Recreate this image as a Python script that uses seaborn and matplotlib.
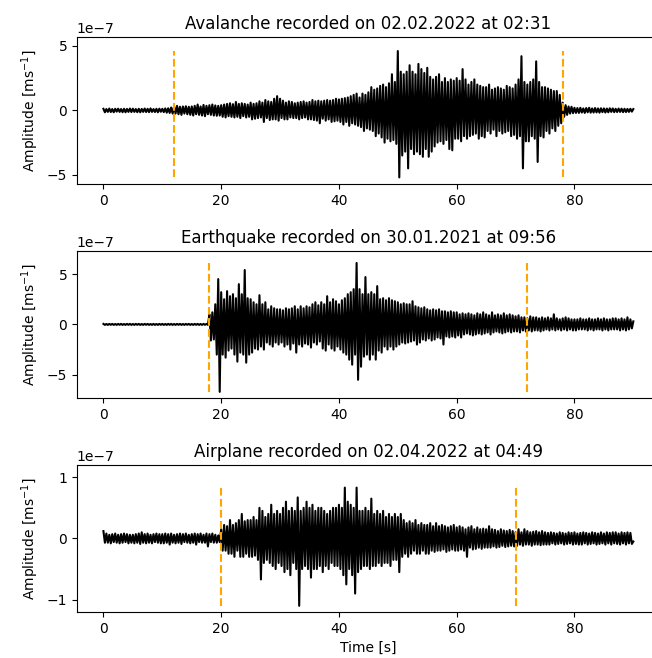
import numpy as np
import matplotlib
matplotlib.use("Agg")
import matplotlib.pyplot as plt
import seaborn as sns

# sample times [s], one reading every 0.25 s
time = np.arange(0, 90.25, 0.25)

# amplitudes, in units of 1e-7 m/s (one row = 5 s)
avalanche = [
    0.12, -0.15, 0.10, -0.12, 0.14, -0.13, 0.10, -0.15, 0.12, -0.10, 0.13, -0.12, 0.10, -0.14, 0.12, -0.15, 0.11, -0.12, 0.14, -0.13,
    0.13, -0.12, 0.10, -0.14, 0.12, -0.15, 0.11, -0.12, 0.14, -0.13, 0.12, -0.14, 0.15, -0.12, 0.10, -0.13, 0.12, -0.15, 0.13, -0.11,
    0.12, -0.14, 0.15, -0.18, 0.16, -0.20, 0.22, -0.25, 0.30, -0.25, 0.35, -0.30, 0.28, -0.35, 0.30, -0.25, 0.32, -0.30, 0.28, -0.35,
    0.30, -0.40, 0.35, -0.30, 0.45, -0.35, 0.30, -0.40, 0.42, -0.45, 0.35, -0.30, 0.40, -0.35, 0.45, -0.40, 0.38, -0.42, 0.35, -0.40,
    0.40, -0.50, 0.45, -0.55, 0.50, -0.45, 0.55, -0.50, 0.48, -0.55, 0.65, -0.50, 0.50, -0.60, 0.55, -0.45, 0.50, -0.55, 0.45, -0.50,
    0.60, -0.70, 0.50, -0.65, 0.55, -0.60, 0.70, -0.55, 0.60, -0.90, 0.80, -0.60, 0.70, -0.75, 0.65, -0.70, 0.90, -0.70, 1.10, -0.80,
    0.90, -0.60, 0.75, -0.70, 0.60, -0.70, 0.70, -0.55, 0.65, -0.60, 0.55, -0.60, 0.60, -0.70, 0.65, -0.60, 0.70, -0.55, 0.60, -0.70,
    0.65, -0.70, 0.80, -0.75, 0.70, -0.80, 0.75, -1.00, 0.70, -0.65, 0.75, -0.80, 0.80, -0.70, 0.75, -0.90, 0.80, -0.85, 0.90, -0.80,
    0.85, -0.90, 0.90, -1.10, 0.95, -0.90, 1.00, -1.20, 1.10, -1.00, 1.20, -1.10, 1.30, -1.20, 1.00, -1.30, 1.30, -1.60, 1.20, -1.40,
    1.40, -1.50, 1.80, -1.60, 1.60, -2.00, 1.70, -1.80, 1.90, -2.10, 2.00, -2.50, 1.80, -2.20, 2.10, -2.40, 2.80, -2.30, 2.20, -2.60,
    4.60, -5.20, 3.00, -3.50, 2.80, -3.20, 3.00, -4.50, 3.50, -3.00, 3.00, -3.40, 2.80, -3.20, 3.60, -3.40, 3.20, -3.60, 2.90, -3.00,
    3.30, -3.60, 2.60, -3.20, 2.40, -2.80, 2.60, -2.50, 2.80, -2.40, 2.20, -2.60, 2.50, -2.30, 2.20, -3.00, 2.40, -3.10, 2.30, -2.20,
    2.50, -2.20, 2.30, -2.40, 3.20, -2.00, 2.40, -2.20, 2.00, -2.00, 2.20, -1.90, 2.40, -1.80, 2.00, -2.20, 1.90, -2.00, 1.80, -2.10,
    1.80, -1.60, 2.00, -1.80, 1.60, -1.50, 1.70, -2.00, 1.80, -1.60, 1.70, -1.80, 1.60, -1.70, 1.90, -1.60, 1.80, -2.00, 1.70, -1.90,
    2.00, -2.20, 2.40, -2.00, 4.20, -4.50, 2.20, -2.40, 2.00, -2.40, 2.20, -2.00, 2.40, -2.20, 3.80, -4.00, 2.20, -2.00, 1.80, -2.10,
    1.80, -1.60, 1.70, -1.80, 1.60, -1.40, 1.50, -1.60, 1.50, -1.20, 1.20, -1.00, 0.60, -0.50, 0.40, -0.35, 0.30, -0.25, 0.28, -0.22,
    0.20, -0.20, 0.18, -0.20, 0.20, -0.17, 0.15, -0.20, 0.18, -0.15, 0.20, -0.18, 0.15, -0.17, 0.18, -0.16, 0.15, -0.18, 0.16, -0.14,
    0.15, -0.17, 0.14, -0.15, 0.16, -0.12, 0.15, -0.14, 0.12, -0.13, 0.14, -0.12, 0.13, -0.14, 0.12, -0.13, 0.11, -0.12, 0.12, -0.10,
    0.10,
]

earthquake = [
    0.05, -0.05, 0.04, -0.05, 0.05, -0.04, 0.05, -0.05, 0.04, -0.05, 0.05, -0.04, 0.05, -0.05, 0.04, -0.05, 0.05, -0.04, 0.05, -0.05,
    0.04, -0.05, 0.05, -0.04, 0.05, -0.05, 0.04, -0.05, 0.05, -0.04, 0.05, -0.05, 0.04, -0.05, 0.05, -0.05, 0.04, -0.05, 0.05, -0.04,
    0.05, -0.05, 0.04, -0.05, 0.05, -0.04, 0.05, -0.05, 0.04, -0.05, 0.05, -0.04, 0.05, -0.05, 0.04, -0.05, 0.05, -0.04, 0.05, -0.05,
    0.04, -0.05, 0.05, -0.04, 0.05, -0.05, 0.04, -0.05, 0.05, -0.04, 0.05, -0.05, 1.00, -1.60, 1.20, -1.50, 2.00, -3.00, 4.50, -6.70,
    3.20, -3.00, 2.50, -3.30, 3.30, -2.60, 2.80, -2.40, 3.00, -3.00, 2.60, -3.70, 4.00, -2.80, 3.00, -3.00, 5.40, -3.80, 2.60, -3.00,
    2.50, -2.80, 2.20, -2.40, 2.00, -2.50, 2.90, -2.20, 2.00, -2.50, 2.20, -1.80, 1.50, -2.00, 1.80, -2.20, 1.60, -1.80, 1.50, -2.00,
    1.50, -1.80, 1.40, -2.20, 1.60, -2.00, 1.50, -2.50, 1.60, -1.90, 1.80, -2.80, 1.50, -2.00, 1.80, -2.20, 1.60, -1.90, 1.80, -2.00,
    1.70, -2.30, 2.00, -1.80, 2.20, -2.00, 1.90, -1.70, 2.20, -2.40, 2.00, -2.60, 2.80, -2.00, 2.20, -2.40, 2.50, -2.60, 2.30, -2.20,
    2.00, -2.50, 2.40, -2.80, 2.60, -3.00, 3.00, -3.50, 3.20, -4.00, 3.50, -3.00, 6.10, -5.50, 3.50, -4.20, 3.00, -3.20, 4.70, -3.00,
    3.00, -3.50, 3.20, -3.00, 3.00, -3.50, 3.80, -2.60, 2.50, -2.80, 2.60, -2.20, 2.40, -2.50, 2.60, -2.20, 2.40, -2.50, 2.30, -2.20,
    2.20, -2.00, 2.00, -1.80, 2.10, -1.90, 2.00, -1.80, 2.00, -1.70, 2.30, -1.60, 1.80, -2.00, 1.70, -1.80, 1.60, -1.50, 1.70, -1.60,
    1.50, -1.40, 1.40, -1.60, 1.50, -1.50, 1.40, -1.30, 1.50, -1.40, 1.30, -2.00, 1.30, -1.20, 1.20, -1.30, 1.30, -1.20, 1.20, -1.30,
    1.20, -1.10, 1.00, -1.30, 1.10, -1.00, 1.00, -0.90, 1.10, -1.00, 1.00, -1.10, 0.90, -1.00, 1.10, -0.90, 1.00, -1.00, 1.20, -0.90,
    1.00, -0.80, 0.90, -1.00, 1.20, -0.80, 0.90, -0.70, 1.00, -0.80, 0.90, -0.90, 1.10, -0.80, 0.90, -0.70, 1.00, -0.80, 0.90, -0.70,
    0.80, -0.70, 0.90, -0.80, 0.70, -0.60, 0.70, -0.70, 0.60, -0.60, 0.80, -0.70, 0.70, -0.60, 0.70, -0.60, 0.60, -0.70, 0.70, -0.60,
    0.60, -0.50, 0.70, -0.60, 0.60, -0.50, 1.00, -0.60, 0.60, -0.50, 0.50, -0.60, 0.60, -0.50, 0.70, -0.60, 0.60, -0.50, 0.50, -0.60,
    0.50, -0.60, 0.50, -0.50, 0.60, -0.50, 0.50, -0.50, 0.50, -0.60, 0.60, -0.50, 0.50, -0.60, 0.50, -0.50, 0.60, -0.50, 0.50, -0.60,
    0.60, -0.50, 0.50, -0.60, 0.50, -0.50, 0.60, -0.50, 0.60, -0.50, 0.50, -0.60, 0.60, -0.50, 0.50, -0.60, 0.70, -0.50, 0.50, -0.40,
    0.30,
]

airplane = [
    0.12, -0.07, 0.08, -0.07, 0.06, -0.08, 0.07, -0.06, 0.08, -0.07, 0.06, -0.08, 0.07, -0.07, 0.08, -0.06, 0.07, -0.08, 0.06, -0.07,
    0.06, -0.08, 0.07, -0.07, 0.08, -0.09, 0.10, -0.07, 0.07, -0.08, 0.08, -0.07, 0.06, -0.08, 0.07, -0.06, 0.08, -0.07, 0.07, -0.08,
    0.07, -0.08, 0.08, -0.07, 0.07, -0.10, 0.08, -0.07, 0.06, -0.08, 0.07, -0.07, 0.08, -0.09, 0.07, -0.06, 0.08, -0.07, 0.06, -0.08,
    0.07, -0.07, 0.08, -0.10, 0.07, -0.06, 0.08, -0.07, 0.06, -0.07, 0.08, -0.13, 0.07, -0.06, 0.08, -0.07, 0.06, -0.07, 0.05, -0.06,
    0.15, -0.20, 0.22, -0.20, 0.20, -0.25, 0.30, -0.25, 0.22, -0.30, 0.25, -0.20, 0.30, -0.30, 0.40, -0.30, 0.28, -0.25, 0.30, -0.30,
    0.30, -0.30, 0.35, -0.28, 0.30, -0.35, 0.50, -0.67, 0.45, -0.40, 0.35, -0.35, 0.40, -0.40, 0.55, -0.45, 0.40, -0.50, 0.45, -0.40,
    0.40, -0.45, 0.50, -0.55, 0.60, -0.50, 0.45, -0.60, 0.50, -0.40, 0.45, -0.50, 0.67, -1.10, 0.45, -0.50, 0.50, -0.45, 0.60, -0.50,
    0.50, -0.64, 0.55, -0.50, 0.45, -0.50, 0.50, -0.45, 0.50, -0.55, 0.45, -0.45, 0.40, -0.50, 0.45, -0.40, 0.50, -0.45, 0.50, -0.45,
    0.55, -0.50, 0.50, -0.60, 0.83, -0.75, 0.60, -0.50, 0.55, -0.60, 0.50, -0.90, 0.83, -0.55, 0.45, -0.50, 0.45, -0.45, 0.50, -0.45,
    0.45, -0.50, 0.65, -0.45, 0.40, -0.45, 0.45, -0.40, 0.40, -0.45, 0.45, -0.40, 0.35, -0.40, 0.40, -0.45, 0.35, -0.35, 0.40, -0.35,
    0.35, -0.55, 0.40, -0.30, 0.30, -0.25, 0.25, -0.30, 0.28, -0.25, 0.25, -0.20, 0.30, -0.25, 0.22, -0.25, 0.25, -0.20, 0.22, -0.25,
    0.22, -0.25, 0.25, -0.20, 0.20, -0.22, 0.25, -0.20, 0.20, -0.20, 0.22, -0.18, 0.20, -0.22, 0.18, -0.20, 0.20, -0.18, 0.22, -0.20,
    0.18, -0.20, 0.20, -0.18, 0.18, -0.20, 0.15, -0.30, 0.18, -0.15, 0.20, -0.18, 0.15, -0.17, 0.18, -0.15, 0.15, -0.17, 0.16, -0.15,
    0.15, -0.15, 0.20, -0.15, 0.15, -0.13, 0.14, -0.15, 0.12, -0.14, 0.15, -0.12, 0.13, -0.14, 0.12, -0.13, 0.14, -0.12, 0.12, -0.13,
    0.10, -0.12, 0.15, -0.10, 0.10, -0.12, 0.15, -0.10, 0.12, -0.10, 0.10, -0.12, 0.11, -0.10, 0.12, -0.10, 0.10, -0.11, 0.12, -0.10,
    0.10, -0.10, 0.09, -0.10, 0.10, -0.08, 0.09, -0.10, 0.08, -0.09, 0.10, -0.08, 0.09, -0.10, 0.08, -0.09, 0.10, -0.08, 0.09, -0.10,
    0.10, -0.09, 0.08, -0.10, 0.09, -0.10, 0.10, -0.08, 0.09, -0.10, 0.08, -0.09, 0.10, -0.08, 0.09, -0.10, 0.08, -0.09, 0.10, -0.08,
    0.08, -0.10, 0.10, -0.08, 0.09, -0.10, 0.10, -0.08, 0.10, -0.09, 0.08, -0.10, 0.10, -0.08, 0.09, -0.10, 0.10, -0.08, 0.09, -0.09,
    -0.05,
]

titles = [
    "Avalanche recorded on 02.02.2022 at 02:31",
    "Earthquake recorded on 30.01.2021 at 09:56",
    "Airplane recorded on 02.04.2022 at 04:49",
]
# start / end of the event window [s]
windows = [(12, 78), (18, 72), (20, 70)]
traces = [avalanche, earthquake, airplane]

# axis settings (units of 1e-7)
y_limits = [5.7, 7.3, 1.2]
y_ticks = [[-5, 0, 5], [-5, 0, 5], [-1, 0, 1]]

fig, axes = plt.subplots(3, 1, figsize=(6.52, 6.58), dpi=100)
# the right edge of the axes runs past the picture, as in the original
fig.subplots_adjust(left=0.118, right=1.012, top=0.944, bottom=0.070, hspace=0.456)

for ax, trace, title, (t0, t1), lim, ticks in zip(axes, traces, titles, windows, y_limits, y_ticks):
    amp = np.array(trace) * 1e-7
    sns.lineplot(x=time, y=amp, color="black", estimator=None, linewidth=1.5, ax=ax)
    ax.vlines([t0, t1], amp.min(), amp.max(), colors="orange", linestyles="--")
    ax.set_ylim(-lim * 1e-7, lim * 1e-7)
    ax.set_yticks(np.array(ticks) * 1e-7)
    ax.set_title(title)
    ax.set_ylabel("Amplitude [ms$^{-1}$]")

axes[-1].set_xlabel("Time [s]")

plt.savefig("out.png", dpi=100)
